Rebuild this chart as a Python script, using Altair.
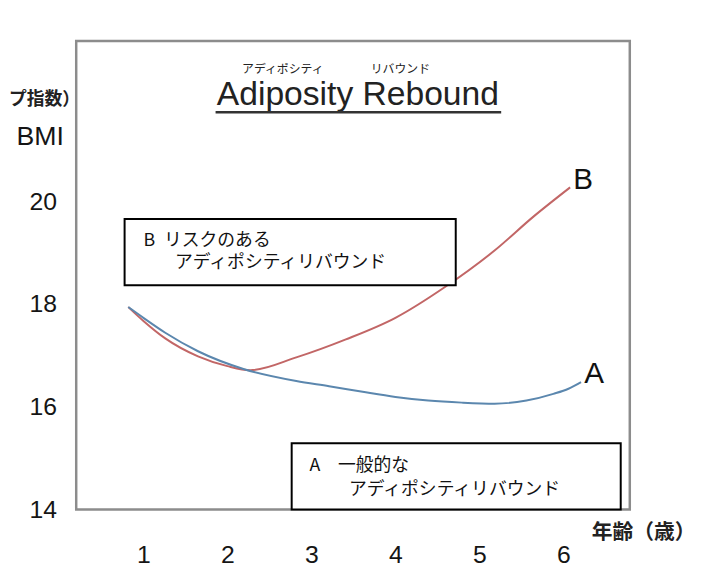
import altair as alt
import pandas as pd

# ---- data ----
age_a = [0.82, 1.0, 1.26, 1.65, 2.2, 2.82, 3.21, 3.61, 4.0, 4.39, 4.79, 5.18, 5.56, 5.88, 6.06, 6.21]
bmi_a = [17.94, 17.73, 17.44, 17.08, 16.73, 16.50, 16.40, 16.29, 16.19, 16.12, 16.08, 16.06, 16.12, 16.25, 16.35, 16.48]
age_b = [0.82, 1.0, 1.26, 1.65, 2.0, 2.27, 2.82, 3.41, 4.0, 4.59, 5.18, 5.65, 6.08]
bmi_b = [17.94, 17.67, 17.33, 16.98, 16.79, 16.71, 16.96, 17.31, 17.73, 18.33, 19.04, 19.71, 20.27]

x_ticks = [1, 2, 3, 4, 5, 6]
y_ticks = [14, 16, 18, 20]

title_text = "Adiposity Rebound"
ruby_left = "アディポシティ"
ruby_right = "リバウンド"
note_b = ["B\u2002リスクのある", "アディポシティリバウンド"]
note_a = ["A　一般的な", "アディポシティリバウンド"]
x_title = "年齢（歳）"
y_title = "BMI"
y_title2 = "プ指数）"

RED = "#c26666"
BLUE = "#5b87ae"
JP = "Noto Sans CJK JP"
LAT = "Liberation Sans"

x_scale = alt.Scale(domain=[0.2, 6.79], nice=False, zero=False)
y_scale = alt.Scale(domain=[14, 23.12], nice=False, zero=False)

x_axis = alt.Axis(values=x_ticks, title=x_title, grid=False, domain=False, ticks=False, tickSize=0,
                  labelFont=LAT, labelFontSize=25, labelColor="#151515", labelPadding=34,
                  titleFont=JP, titleFontSize=21, titleFontWeight="bold", titleColor="#222",
                  titleX=521, titleY=23, titleAlign="left", titleBaseline="middle", titleAngle=0)
y_axis = alt.Axis(values=y_ticks, title=y_title, grid=False, domain=False, ticks=False, tickSize=0,
                  labelFont=LAT, labelFontSize=25, labelColor="#151515", labelPadding=20,
                  labelAlign="right", labelBaseline="middle",
                  titleFont=LAT, titleFontSize=27, titleFontWeight="normal", titleColor="#151515",
                  titleX=-37, titleY=97, titleAlign="center", titleBaseline="middle", titleAngle=0)


def X():
    return alt.X("age:Q", scale=x_scale, axis=x_axis)


def Y():
    return alt.Y("bmi:Q", scale=y_scale, axis=y_axis)


def text_layer(x, y, text, **kw):
    df = pd.DataFrame({"age": [x], "bmi": [y], "t": [text]})
    return alt.Chart(df).mark_text(**kw).encode(x=X(), y=Y(), text="t:N")


def box_layer(x1, x2, y1, y2):
    df = pd.DataFrame({"age": [x1], "age2": [x2], "bmi": [y1], "bmi2": [y2]})
    return alt.Chart(df).mark_rect(fill="white", stroke="black", strokeWidth=2).encode(
        x=X(), x2="age2:Q", y=Y(), y2="bmi2:Q")


df_a = pd.DataFrame({"age": age_a, "bmi": bmi_a})
df_b = pd.DataFrame({"age": age_b, "bmi": bmi_b})

line_b = alt.Chart(df_b).mark_line(color=RED, strokeWidth=2, interpolate="monotone").encode(
    x=X(), y=Y())
line_a = alt.Chart(df_a).mark_line(color=BLUE, strokeWidth=2, interpolate="monotone").encode(
    x=X(), y=Y())

underline_df = pd.DataFrame({"age": [1.859], "age2": [5.259], "bmi": [21.73]})
underline = alt.Chart(underline_df).mark_rule(color="#333", strokeWidth=2.5).encode(
    x=X(), x2="age2:Q", y=Y())

layers = [
    line_b,
    line_a,
    box_layer(0.776, 4.718, 19.654, 18.365),
    box_layer(2.765, 6.682, 15.288, 14.0),
    text_layer(1.0, 19.23, note_b[0], font=JP, fontSize=18, align="left", baseline="middle", color="#111"),
    text_layer(1.376, 18.79, note_b[1], font=JP, fontSize=18, align="left", baseline="middle", color="#111"),
    text_layer(2.976, 14.846, note_a[0], font=JP, fontSize=18, align="left", baseline="middle", color="#111"),
    text_layer(3.447, 14.385, note_a[1], font=JP, fontSize=18, align="left", baseline="middle", color="#111"),
    text_layer(3.553, 21.865, title_text, font=LAT, fontSize=34, align="center", baseline="alphabetic", color="#222"),
    underline,
    text_layer(2.659, 22.57, ruby_left, font=JP, fontSize=12, align="center", baseline="middle", color="#222"),
    text_layer(4.059, 22.57, ruby_right, font=JP, fontSize=12, align="center", baseline="middle", color="#222"),
    text_layer(6.235, 20.42, "B", font=LAT, fontSize=30, align="center", baseline="middle", color="#111"),
    text_layer(6.365, 16.63, "A", font=LAT, fontSize=30, align="center", baseline="middle", color="#111"),
    text_layer(0.247, 21.96, y_title2, font=JP, fontSize=18, fontWeight="bold", align="right", baseline="middle", color="#222"),
]

chart = alt.layer(*layers).properties(
    width=560, height=474,
    autosize=alt.AutoSizeParams(type="none"),
    padding={"left": 69, "top": 30, "right": 69, "bottom": 66},
    background="white",
).configure_view(stroke="#8c8c8c", strokeWidth=2.5)

chart.save("out.html", embed_options={"renderer": "svg", "actions": False})
